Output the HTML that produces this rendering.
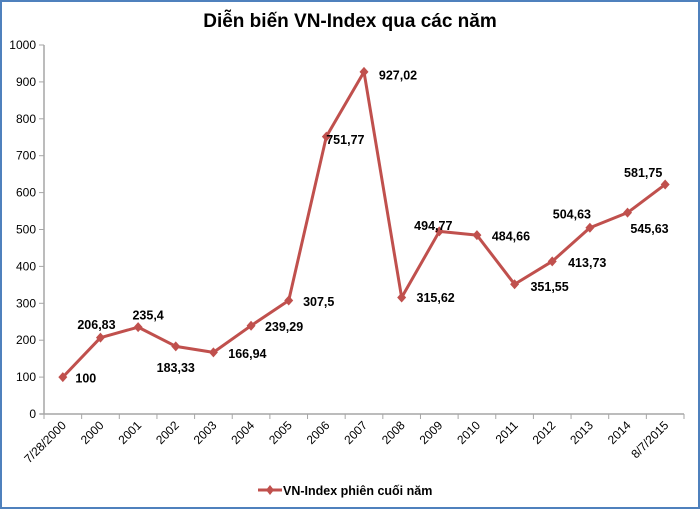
<!DOCTYPE html>
<html><head><meta charset="utf-8"><style>
html,body{margin:0;padding:0;background:#fff}
svg{display:block;font-family:"Liberation Sans",Tahoma,sans-serif}
</style></head><body>
<svg id="chart" width="700" height="509">
<rect x="1" y="1" width="698" height="507" fill="#fff" stroke="#4f81bd" stroke-width="2"/>
<text x="350" y="27" text-anchor="middle" font-size="19" font-weight="bold" fill="#000">Diễn biến VN-Index qua các năm</text>
<g id="axes"></g><g id="series"></g>
<g>
<line x1="258" y1="490" x2="282" y2="490" stroke="#c0504d" stroke-width="3"/>
<path d="M270 485 L274 490 L270 495 L266 490Z" fill="#c0504d"/>
<text x="283" y="495" font-size="12.5" font-weight="bold">VN-Index phiên cuối năm</text>
</g>
</svg>
<script>
const categories=["7/28/2000","2000","2001","2002","2003","2004","2005","2006","2007","2008","2009","2010","2011","2012","2013","2014","8/7/2015"];
const values=[100,206.83,235.4,183.33,166.94,239.29,307.5,751.77,927.02,315.62,494.77,484.66,351.55,413.73,504.63,545.63,622];
const valueLabels=["100","206,83","235,4","183,33","166,94","239,29","307,5","751,77","927,02","315,62","494,77","484,66","351,55","413,73","504,63","545,63","581,75"];
const yTicks=[0,100,200,300,400,500,600,700,800,900,1000];
const labelOffsets=[[23,1],[-4,-13],[10,-12],[0,21],[34,1],[33,1],[30,1],[19,3],[34,3],[34,0],[-6,-6],[34,1],[35,2],[35,1],[-18,-14],[22,16],[-22,-12]];
const NS="http://www.w3.org/2000/svg";
const x0=44,x1=684,y0=414,y1=45;
const bw=(x1-x0)/categories.length;
const xs=i=>x0+bw*(i+0.5);
const ys=v=>y0-(v/1000)*(y0-y1);
function mk(t,a,p){const e=document.createElementNS(NS,t);for(const k in a)e.setAttribute(k,a[k]);p.appendChild(e);return e;}
const ax=document.getElementById('axes'),se=document.getElementById('series');
const yl=mk('line',{x1:x0,y1:y1,x2:x0,y2:y0,stroke:'#a6a6a6','stroke-width':1.5},ax);


const xl=mk('line',{x1:x0-4,y1:y0,x2:x1,y2:y0,stroke:'#a6a6a6','stroke-width':1.5},ax);


yTicks.forEach(v=>{
 const tk=mk('line',{x1:x0-5,y1:ys(v),x2:x0,y2:ys(v),stroke:'#a6a6a6'},ax);
 
 
 const t=mk('text',{x:x0-8,y:ys(v)+4,'text-anchor':'end','font-size':12},ax);t.textContent=v;
 
 
});
for(let i=0;i<=categories.length;i++){
 const tk=mk('line',{x1:x0+bw*i,y1:y0,x2:x0+bw*i,y2:y0+5,stroke:'#a6a6a6'},ax);
 
 
}
categories.forEach((c,i)=>{
 const x=xs(i)+4,y=y0+12;
 const t=mk('text',{x:x,y:y,'text-anchor':'end','font-size':12,transform:`rotate(-45 ${x} ${y})`},ax);t.textContent=c;
 
 
});
const line=mk('polyline',{points:values.map((v,i)=>xs(i)+','+ys(v)).join(' '),fill:'none',stroke:'#c0504d','stroke-width':3,'stroke-linejoin':'round'},se);


values.forEach((v,i)=>{
 const x=xs(i),y=ys(v);
 const m=mk('path',{d:`M${x} ${y-5}L${x+4.5} ${y}L${x} ${y+5}L${x-4.5} ${y}Z`,fill:'#c0504d'},se);
 
 
 const o=labelOffsets[i];
 const t=mk('text',{x:x+o[0],y:y+o[1]+4.5,'text-anchor':'middle','font-size':12.5,'font-weight':'bold'},se);t.textContent=valueLabels[i];
 
 
});
</script>
</body></html>
